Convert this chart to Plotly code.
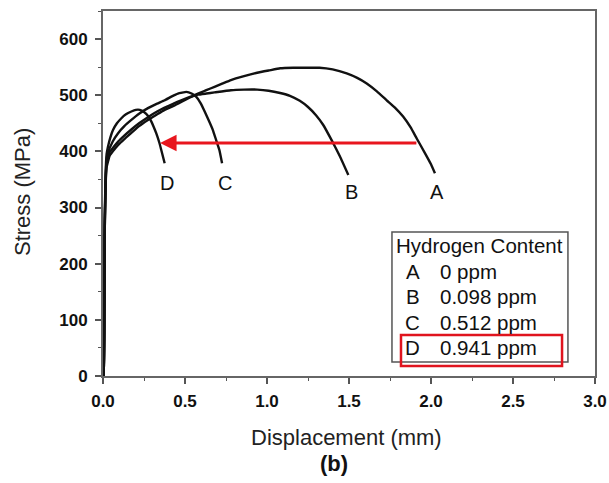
import plotly.graph_objects as go

# Curve data (displacement mm, stress MPa)
a_x = [0.0, 0.004, 0.010, 0.016, 0.022, 0.04, 0.06, 0.091, 0.13, 0.173, 0.22, 0.274, 0.33, 0.376, 0.43, 0.477, 0.53, 0.579, 0.63, 0.68, 0.73, 0.78, 0.86, 0.94, 1.01, 1.08, 1.16, 1.24, 1.32, 1.40, 1.486, 1.55, 1.608, 1.67, 1.73, 1.78, 1.83, 1.875, 1.913, 1.963, 2.00, 2.024]
a_y = [0.0, 0.0, 250, 340, 372, 392, 400, 411, 422, 433, 445, 456, 466, 474, 481, 488, 496, 503, 509, 515, 521, 527, 534, 540, 544, 548, 549, 549, 549, 546, 539, 531, 521, 507, 491, 478, 462, 443, 423, 397, 377, 361]
b_x = [0.0, 0.004, 0.010, 0.016, 0.022, 0.04, 0.06, 0.091, 0.13, 0.173, 0.22, 0.274, 0.33, 0.376, 0.43, 0.477, 0.53, 0.579, 0.63, 0.68, 0.78, 0.86, 0.94, 1.01, 1.08, 1.14, 1.20, 1.25, 1.30, 1.343, 1.394, 1.445, 1.496]
b_y = [0.0, 0.0, 250, 345, 378, 398, 406, 417, 428, 439, 450, 461, 471, 478, 485, 491, 497, 501, 503, 505, 509, 510, 510, 508, 504, 499, 490, 479, 464, 447, 420, 391, 358]
c_x = [0.0, 0.004, 0.010, 0.016, 0.022, 0.03, 0.06, 0.091, 0.13, 0.173, 0.22, 0.274, 0.33, 0.376, 0.42, 0.457, 0.508, 0.54, 0.569, 0.595, 0.62, 0.645, 0.67, 0.69, 0.71, 0.726]
c_y = [0.0, 0.0, 260, 350, 385, 397, 418, 432, 445, 456, 467, 477, 485, 491, 498, 503, 506, 503, 497, 486, 471, 455, 438, 420, 402, 379]
d_x = [0.0, 0.004, 0.010, 0.016, 0.022, 0.03, 0.045, 0.061, 0.085, 0.112, 0.14, 0.173, 0.2, 0.224, 0.25, 0.275, 0.295, 0.31, 0.325, 0.345, 0.36, 0.376]
d_y = [0.0, 0.0, 270, 360, 395, 408, 425, 438, 450, 459, 466, 471, 474, 474, 470, 463, 453, 443, 432, 414, 397, 379]

curve_labels = ["A", "B", "C", "D"]
label_x = [2.034, 1.516, 0.744, 0.39]
label_y = [328, 328, 344, 344]

legend_title = "Hydrogen Content"
legend_letters = ["A", "B", "C", "D"]
legend_values = ["0 ppm", "0.098 ppm", "0.512 ppm", "0.941 ppm"]
legend_rows_y = [185.7, 141, 94.4, 50]

arrow_start = (1.92, 415)
arrow_end = (0.348, 415)

x_ticks = [0.0, 0.5, 1.0, 1.5, 2.0, 2.5, 3.0]
y_ticks = [0, 100, 200, 300, 400, 500, 600]

fig = go.Figure()
for xs, ys in [(a_x, a_y), (b_x, b_y), (c_x, c_y), (d_x, d_y)]:
    fig.add_trace(go.Scatter(x=xs, y=ys, mode="lines",
                             line=dict(color="#111111", width=2.4, shape="spline", smoothing=0.3),
                             showlegend=False, hoverinfo="skip"))

font_main = "Arial, Liberation Sans, sans-serif"
anns = []
for t, x, y in zip(curve_labels, label_x, label_y):
    anns.append(dict(x=x, y=y, text=t, showarrow=False, xref="x", yref="y",
                     font=dict(family=font_main, size=20, color="#111111")))

# legend box texts
anns.append(dict(x=1.772, y=233, text=legend_title, showarrow=False, xanchor="left",
                 font=dict(family=font_main, size=20.5, color="#111111")))
for l, v, y in zip(legend_letters, legend_values, legend_rows_y):
    anns.append(dict(x=1.89, y=y, text=l, showarrow=False, xanchor="center",
                     font=dict(family=font_main, size=20.5, color="#111111")))
    anns.append(dict(x=2.045, y=y, text=v, showarrow=False, xanchor="left",
                     font=dict(family=font_main, size=20.5, color="#111111")))

# red arrow
anns.append(dict(x=arrow_end[0], y=arrow_end[1], ax=arrow_start[0], ay=arrow_start[1],
                 xref="x", yref="y", axref="x", ayref="y", text="", showarrow=True,
                 arrowhead=2, arrowsize=1.1, arrowwidth=3, arrowcolor="#e8161e"))

W, H = 609, 483
L, R, T, B = 103, 14, 11, 107
pw, ph = W - L - R, H - T - B


def px(x):
    return (x - L) / pw


def py(y):
    return (H - B - y) / ph


# axis titles and caption (pixel positions converted to paper)
anns.append(dict(x=px(346), y=py(437), xref="paper", yref="paper", text="Displacement (mm)",
                 showarrow=False, font=dict(family=font_main, size=22, color="#222222"),
                 yanchor="middle"))
anns.append(dict(x=px(334), y=py(463), xref="paper", yref="paper", text="<b>(b)</b>",
                 showarrow=False, font=dict(family=font_main, size=22, color="#111111"),
                 yanchor="middle"))
anns.append(dict(x=px(22), y=py(192), xref="paper", yref="paper", text="Stress (MPa)",
                 showarrow=False, textangle=-90, font=dict(family=font_main, size=22, color="#222222"),
                 xanchor="center", yanchor="middle"))

fig.update_layout(
    width=W, height=H, margin=dict(l=L, r=R, t=T, b=B, autoexpand=False),
    paper_bgcolor="white", plot_bgcolor="white",
    annotations=anns,
    shapes=[
        dict(type="rect", xref="x", yref="y", x0=1.762, x1=2.835, y0=24.9, y1=256.5,
             line=dict(color="#555555", width=1.5)),
        dict(type="rect", xref="x", yref="y", x0=1.817, x1=2.799, y0=17.8, y1=73,
             line=dict(color="#e0141e", width=2.5)),
    ],
)
fig.update_xaxes(range=[0, 3], tickvals=x_ticks, ticktext=[f"{v:.1f}" for v in x_ticks],
                 automargin=False,
                 ticks="outside", ticklen=6, tickwidth=1.5, tickcolor="#555555",
                 minor=dict(dtick=0.25, ticks="outside", ticklen=3, tickcolor="#555555", tickwidth=1.2),
                 showline=True, linecolor="#666666", linewidth=2, mirror=True,
                 showgrid=False, zeroline=False, ticklabelstandoff=3,
                 tickfont=dict(family=font_main, size=17, color="#111111", weight="bold"))
fig.update_yaxes(range=[0, 650], tickvals=y_ticks, ticks="outside", ticklen=6, tickwidth=1.5,
                 automargin=False,
                 tickcolor="#555555",
                 minor=dict(dtick=50, ticks="outside", ticklen=3, tickcolor="#555555", tickwidth=1.2),
                 showline=True, linecolor="#666666", linewidth=2, mirror=True,
                 showgrid=False, zeroline=False, ticklabelstandoff=4,
                 tickfont=dict(family=font_main, size=17, color="#111111", weight="bold"))

fig.write_html("out.html")
